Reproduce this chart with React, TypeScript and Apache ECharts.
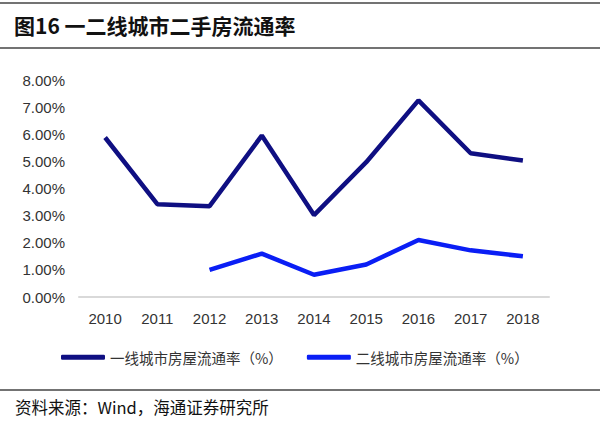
import React, { useEffect, useRef } from "react";
import * as echarts from "echarts";

const years = ["2010", "2011", "2012", "2013", "2014", "2015", "2016", "2017", "2018"];
const tier1 = [5.88, 3.42, 3.35, 5.95, 3.02, 4.97, 7.25, 5.3, 5.03];
const tier2: (number | null)[] = [null, null, 1.0, 1.6, 0.82, 1.2, 2.1, 1.72, 1.5];
const seriesNames = ["一线城市房屋流通率（%）", "二线城市房屋流通率（%）"];
const titleText = "图16 一二线城市二手房流通率";
const sourceText = "资料来源：Wind，海通证券研究所";

export default function App() {
  const ref = useRef<HTMLDivElement>(null);
  useEffect(() => {
    const chart = echarts.init(ref.current!, null, { renderer: "svg" });
    chart.setOption({
      animation: false,
      backgroundColor: "#fff",
      graphic: [
        { type: "line", shape: { x1: 0, y1: 3, x2: 600, y2: 3 }, style: { stroke: "#444", lineWidth: 1.5 } },
        { type: "line", shape: { x1: 0, y1: 48, x2: 600, y2: 48 }, style: { stroke: "#444", lineWidth: 1.5 } },
        { type: "line", shape: { x1: 0, y1: 390, x2: 600, y2: 390 }, style: { stroke: "#444", lineWidth: 1.5 } },
        {
          type: "text", left: 14, top: 14,
          style: { text: titleText, font: "bold 21px 'Noto Sans CJK SC', 'Liberation Sans', sans-serif", fill: "#111" },
        },
        {
          type: "text", left: 15, top: 399,
          style: { text: sourceText, font: "16.5px 'Noto Sans CJK SC', 'Liberation Sans', sans-serif", fill: "#111" },
        },
      ],
      grid: { left: 79, right: 51, top: 80, bottom: 130, containLabel: false },
      legend: {
        left: 56, top: 345,
        itemWidth: 44, itemHeight: 5, itemGap: 24,
        icon: "roundRect",
        textStyle: { fontSize: 14.5, color: "#333", fontFamily: "'Noto Sans CJK SC', sans-serif" },
        data: seriesNames,
      },
      xAxis: {
        type: "category",
        data: years,
        boundaryGap: true,
        axisLine: { lineStyle: { color: "#d9d9d9", width: 2 } },
        axisTick: { show: false },
        axisLabel: { color: "#333", fontSize: 15, fontFamily: "'Liberation Sans', Arial, sans-serif", margin: 14 },
      },
      yAxis: {
        type: "value",
        min: 0, max: 8, interval: 1,
        splitLine: { show: false },
        axisLine: { show: false },
        axisTick: { show: false },
        axisLabel: {
          color: "#333", fontSize: 15, fontFamily: "'Liberation Sans', Arial, sans-serif", margin: 14,
          formatter: (v: number) => v.toFixed(2) + "%",
        },
      },
      series: [
        {
          name: seriesNames[0], type: "line", data: tier1, symbol: "none",
          lineStyle: { color: "#0f0f82", width: 4.5 }, itemStyle: { color: "#0f0f82" },
        },
        {
          name: seriesNames[1], type: "line", data: tier2, symbol: "none",
          lineStyle: { color: "#0a1ef5", width: 4.5 }, itemStyle: { color: "#0a1ef5" },
        },
      ],
    });
    return () => chart.dispose();
  }, []);
  return <div ref={ref} style={{ width: 600, height: 427, position: "absolute", left: 0, top: 0 }} />;
}
